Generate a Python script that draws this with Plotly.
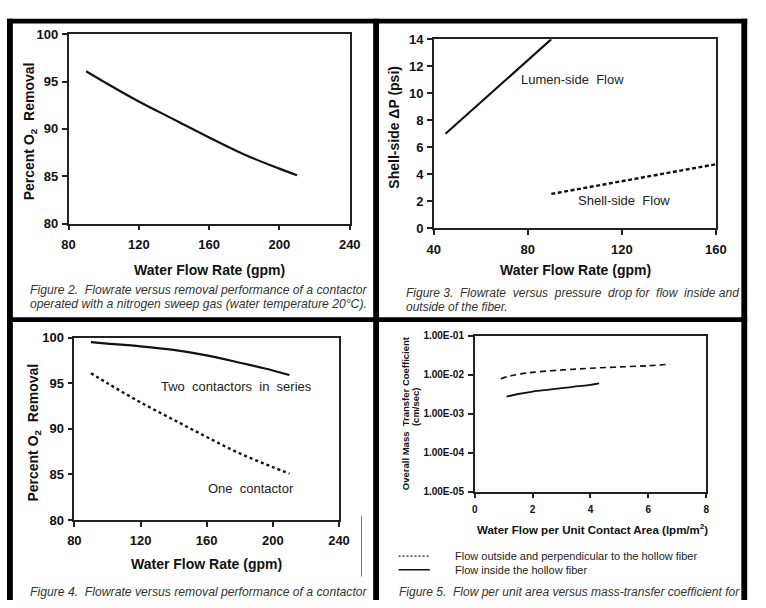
import plotly.graph_objects as go

W, H = 766, 608
FONT = "Liberation Sans, Arial, sans-serif"

# ---------------- data ----------------
# Figure 2: one contactor
fig2_flow = [90, 100, 120, 140, 160, 180, 200, 210]
fig2_removal = [96.1, 95.0, 92.9, 91.0, 89.1, 87.3, 85.8, 85.1]

# Figure 3: pressure drop
fig3_lumen_flow = [45, 90]
fig3_lumen_dp = [7.0, 14.0]
fig3_shell_flow = [90, 160]
fig3_shell_dp = [2.55, 4.75]

# Figure 4: one contactor vs two in series
fig4_flow = [90, 100, 120, 140, 160, 180, 200, 210]
fig4_two = [99.5, 99.35, 99.05, 98.65, 98.05, 97.25, 96.4, 95.9]
fig4_one = [96.1, 95.0, 92.9, 91.0, 89.1, 87.3, 85.8, 85.1]

# Figure 5: mass transfer coefficient
fig5_out_flow = [0.9, 1.2, 1.6, 2.0, 3.0, 4.0, 5.0, 6.0, 6.75]
fig5_out_k = [0.0079, 0.0092, 0.0105, 0.0115, 0.0132, 0.0146, 0.0158, 0.0170, 0.0187]
fig5_in_flow = [1.1, 1.5, 2.0, 2.5, 3.0, 3.5, 4.0, 4.3]
fig5_in_k = [0.00275, 0.0032, 0.0037, 0.0041, 0.0045, 0.0050, 0.0055, 0.0060]

fig2_xticks = [80, 120, 160, 200, 240]
fig2_yticks = [80, 85, 90, 95, 100]
fig3_xticks = [40, 80, 120, 160]
fig3_yticks = [0, 2, 4, 6, 8, 10, 12, 14]
fig5_xticks = [0, 2, 4, 6, 8]
fig5_yticks = [1e-5, 1e-4, 1e-3, 1e-2, 1e-1]
fig5_yticktext = ["1.00E-05", "1.00E-04", "1.00E-03", "1.00E-02", "1.00E-01"]


def px(x):
    return x / W


def py(y):
    return 1 - y / H


fig = go.Figure()

# Figure 2
fig.add_trace(go.Scatter(x=fig2_flow, y=fig2_removal, mode="lines",
                         line=dict(color="#111", width=2.2, shape="spline"),
                         xaxis="x", yaxis="y", showlegend=False))
# Figure 3
fig.add_trace(go.Scatter(x=fig3_lumen_flow, y=fig3_lumen_dp, mode="lines",
                         line=dict(color="#111", width=2.2),
                         xaxis="x2", yaxis="y2", showlegend=False))
fig.add_trace(go.Scatter(x=fig3_shell_flow, y=fig3_shell_dp, mode="lines",
                         line=dict(color="#111", width=2.4, dash="4px,2.5px"),
                         xaxis="x2", yaxis="y2", showlegend=False))
# Figure 4
fig.add_trace(go.Scatter(x=fig4_flow, y=fig4_two, mode="lines",
                         line=dict(color="#111", width=2.2, shape="spline"),
                         xaxis="x3", yaxis="y3", showlegend=False))
fig.add_trace(go.Scatter(x=fig4_flow, y=fig4_one, mode="lines",
                         line=dict(color="#111", width=2.4, dash="3px,3px", shape="spline"),
                         xaxis="x3", yaxis="y3", showlegend=False))
# Figure 5
fig.add_trace(go.Scatter(x=fig5_out_flow, y=fig5_out_k, mode="lines",
                         line=dict(color="#111", width=1.6, dash="6px,4px", shape="spline"),
                         xaxis="x4", yaxis="y4", showlegend=False))
fig.add_trace(go.Scatter(x=fig5_in_flow, y=fig5_in_k, mode="lines",
                         line=dict(color="#111", width=1.8, shape="spline"),
                         xaxis="x4", yaxis="y4", showlegend=False))

axis_common = dict(showgrid=False, zeroline=False, showline=True, mirror=True,
                   linecolor="#222", linewidth=1.5, ticks="outside", ticklen=5,
                   tickwidth=1.5, tickcolor="#222")
tick_font = dict(family=FONT, size=13, color="#111", weight="bold")
small_tick_font = dict(family=FONT, size=10, color="#111", weight="bold")

fig.update_layout(
    width=W, height=H, margin=dict(l=0, r=0, t=0, b=0),
    paper_bgcolor="white", plot_bgcolor="white",
    xaxis=dict(domain=[px(63), px(351)], range=[80, 240], tickvals=fig2_xticks,
               anchor="y", tickfont=tick_font, ticklabelstandoff=3, **axis_common),
    yaxis=dict(domain=[py(222), py(28)], range=[80, 100], tickvals=fig2_yticks,
               anchor="x", tickfont=tick_font, ticklabelstandoff=1, **axis_common),
    xaxis2=dict(domain=[px(437), px(726)], range=[40, 160], tickvals=fig3_xticks,
                anchor="y2", tickfont=tick_font, ticklabelstandoff=3, **axis_common),
    yaxis2=dict(domain=[py(227), py(33)], range=[0, 14], tickvals=fig3_yticks,
                anchor="x2", tickfont=tick_font, ticklabelstandoff=1, **axis_common),
    xaxis3=dict(domain=[px(69), px(340)], range=[80, 240], tickvals=fig2_xticks,
                anchor="y3", tickfont=tick_font, ticklabelstandoff=3, **axis_common),
    yaxis3=dict(domain=[py(526), py(339)], range=[80, 100], tickvals=fig2_yticks,
                anchor="x3", tickfont=tick_font, ticklabelstandoff=1, **axis_common),
    xaxis4=dict(domain=[px(479), px(716)], range=[0, 8], tickvals=fig5_xticks,
                anchor="y4", tickfont=small_tick_font, ticklabelstandoff=3, **axis_common),
    yaxis4=dict(domain=[py(497), py(337)], type="log", range=[-5, -1],
                tickvals=fig5_yticks, ticktext=fig5_yticktext,
                anchor="x4", tickfont=small_tick_font, ticklabelstandoff=2, **axis_common),
)

shapes = []


def rect(x0, y0, x1, y1, color="black"):
    shapes.append(dict(type="rect", xref="paper", yref="paper",
                       x0=px(x0), x1=px(x1), y0=py(y1), y1=py(y0),
                       fillcolor=color, line=dict(width=0), layer="above"))


rect(0, 12, 6, 608)        # left bar
rect(0, 12, 758, 17)       # top bar
rect(752, 12, 758, 608)    # right bar
rect(375, 12, 381, 608)    # middle vertical
rect(0, 318, 758, 323)     # middle horizontal

# scan artifact line in figure 4 panel
shapes.append(dict(type="line", xref="paper", yref="paper",
                   x0=px(363), x1=px(363), y0=py(522), y1=py(584),
                   line=dict(color="#777", width=1)))

# Figure 5 legend samples
shapes.append(dict(type="line", xref="paper", yref="paper",
                   x0=px(401), x1=px(433), y0=py(563), y1=py(563),
                   line=dict(color="#222", width=1.2, dash="2px,2px")))
shapes.append(dict(type="line", xref="paper", yref="paper",
                   x0=px(401), x1=px(433), y0=py(577), y1=py(577),
                   line=dict(color="#111", width=1.5)))
fig.update_layout(shapes=shapes)

ann = []
title_font = dict(family=FONT, size=14, color="#111", weight="bold")
lab_font = dict(family=FONT, size=13, color="#222")


def cap_font(size):
    return dict(family=FONT, size=size, color="#333", style="italic")


def paper_text(text, x, y, font, xanchor="center", angle=0):
    ann.append(dict(text=text, xref="paper", yref="paper", x=px(x), y=py(y),
                    xanchor=xanchor, yanchor="middle", showarrow=False,
                    font=font, textangle=angle))


# axis titles
paper_text("Water Flow Rate (gpm)", 207, 270, title_font)
paper_text("Percent O<sub>2</sub>  Removal", 23, 127, title_font, angle=-90)
paper_text("Water Flow Rate (gpm)", 582, 270, title_font)
paper_text("Shell-side ΔP (psi)", 396, 123, title_font, angle=-90)
paper_text("Water Flow Rate (gpm)", 204, 571, title_font)
paper_text("Percent O<sub>2</sub>  Removal", 28, 436, title_font, angle=-90)
paper_text("Water Flow per Unit Contact Area (lpm/m<sup>2</sup>)", 600, 535,
           dict(family=FONT, size=11.5, color="#111", weight="bold"))
paper_text("Overall Mass  Transfer Coefficient", 408, 416,
           dict(family=FONT, size=9.5, color="#111", weight="bold"), angle=-90)
paper_text("(cm/sec)", 419, 410,
           dict(family=FONT, size=9.5, color="#111", weight="bold"), angle=-90)

# legend texts for figure 5
leg_font = dict(family=FONT, size=11, color="#222")
paper_text("Flow outside and perpendicular to the hollow fiber", 457, 563, leg_font, xanchor="left")
paper_text("Flow inside the hollow fiber", 457, 577, leg_font, xanchor="left")

# captions
paper_text("Figure 2.  Flowrate versus removal performance of a contactor", 21, 290, cap_font(12.2), xanchor="left")
paper_text("operated with a nitrogen sweep gas (water temperature 20°C).", 21, 305, cap_font(12.2), xanchor="left")
paper_text("Figure 3.  Flowrate  versus  pressure  drop for  flow  inside and", 407, 293, cap_font(12), xanchor="left")
paper_text("outside of the fiber.", 407, 308, cap_font(12), xanchor="left")
paper_text("Figure 4.  Flowrate versus removal performance of a contactor", 21, 600, cap_font(12.2), xanchor="left")
paper_text("Figure 5.  Flow per unit area versus mass-transfer coefficient for", 399, 600, cap_font(12), xanchor="left")

# in-plot labels (data coordinates)
ann.append(dict(text="Lumen-side  Flow", x=99, y=11, xref="x2", yref="y2",
                showarrow=False, font=lab_font))
ann.append(dict(text="Shell-side  Flow", x=121, y=2.1, xref="x2", yref="y2",
                showarrow=False, font=lab_font))
ann.append(dict(text="Two  contactors  in  series", x=178, y=94.6, xref="x3", yref="y3",
                showarrow=False, font=lab_font))
ann.append(dict(text="One  contactor", x=187, y=83.5, xref="x3", yref="y3",
                showarrow=False, font=lab_font))

fig.update_layout(annotations=ann)

fig.write_html("out.html")
